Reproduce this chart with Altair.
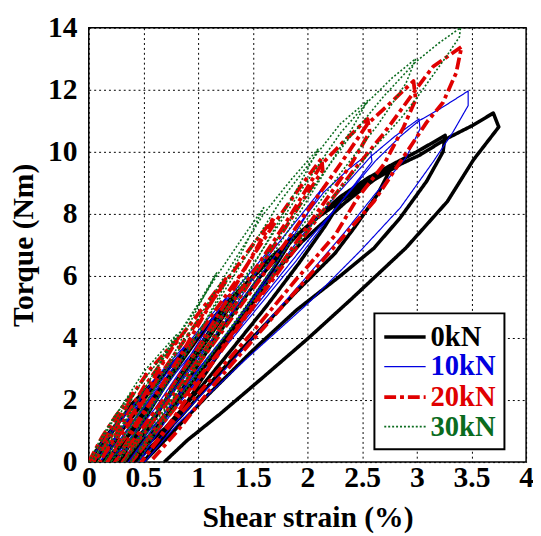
import altair as alt
import pandas as pd

SERIES = ["0kN", "10kN", "20kN", "30kN"]
COLORS = ["#000000", "#0000e0", "#e00000", "#0a6b1e"]
WIDTHS = [3.6, 1.2, 3.8, 1.6]
DASHES = [[1, 0], [1, 0], [12, 4, 4, 4], [2, 2]]

# (shear strain %, torque Nm) read along each hysteresis path, in drawing order
PATH_0KN = [
    (0, 0), (0.15, 0.8), (0.32, 1.5), (0.55, 2.3), (0.45, 1.7), (0.3, 1.0), (0.15, 0.35), (0.05, 0),
    (0.2, 0.9), (0.4, 1.9), (0.6, 2.6), (0.8, 3.3), (0.98, 4.0), (0.85, 3.3), (0.65, 2.2), (0.45, 1.2), (0.25, 0.4), (0.12, 0),
    (0.3, 1.0), (0.52, 2.1), (0.75, 3.1), (0.98, 3.95), (1.2, 4.9), (1.42, 5.7), (1.25, 4.8), (1.0, 3.5), (0.75, 2.2), (0.5, 1.0), (0.3, 0.3), (0.2, 0),
    (0.4, 1.1), (0.65, 2.4), (0.95, 3.8), (1.2, 4.8), (1.42, 5.65), (1.65, 6.5), (1.88, 7.3), (1.72, 6.4), (1.47, 5.1), (1.17, 3.6), (0.87, 2.2), (0.57, 0.9), (0.36, 0.2), (0.28, 0),
    (0.48, 1.2), (0.72, 2.6), (1.0, 4.0), (1.3, 5.2), (1.6, 6.4), (1.88, 7.25), (2.1, 7.9), (2.32, 8.5), (2.16, 7.6), (1.92, 6.4), (1.62, 5.0), (1.3, 3.6), (1.0, 2.3), (0.7, 1.1), (0.45, 0.3), (0.35, 0),
    (0.57, 1.2), (0.8, 2.6), (1.1, 4.2), (1.45, 5.8), (1.8, 7.0), (2.1, 7.9), (2.32, 8.45), (2.55, 9.05), (2.78, 9.58), (2.64, 8.62), (2.43, 7.56), (2.25, 6.72), (1.9, 5.5), (1.55, 4.2), (1.2, 2.9), (0.85, 1.5), (0.6, 0.6), (0.42, 0),
    (0.66, 1.2), (0.9, 2.6), (1.2, 4.2), (1.55, 5.9), (1.9, 7.3), (2.3, 8.55), (2.55, 9.15), (2.78, 9.6), (3.0, 10.0), (3.26, 10.53), (3.24, 10.0), (3.09, 9.05), (2.85, 7.88), (2.61, 6.9), (2.3, 6.0), (1.9, 4.9), (1.5, 3.6), (1.1, 2.2), (0.75, 0.9), (0.5, 0),
    (0.77, 1.2), (1.02, 2.6), (1.32, 4.2), (1.65, 5.9), (1.95, 7.1), (2.34, 8.35), (2.61, 9.1), (2.85, 9.6), (3.03, 9.9), (3.27, 10.42), (3.51, 10.85), (3.70, 11.25), (3.75, 10.8), (3.52, 9.75), (3.28, 8.4), (2.9, 6.9), (2.4, 5.25), (2.01, 4.0), (1.6, 2.75), (1.2, 1.55), (0.9, 0.7), (0.69, 0),
]

PATH_10KN = [
    (0, 0), (0.15, 0.8), (0.3, 1.45), (0.5, 2.2), (0.38, 1.5), (0.22, 0.7), (0.1, 0.2), (0.04, 0),
    (0.2, 0.9), (0.4, 1.8), (0.62, 2.75), (0.88, 3.75), (0.72, 2.9), (0.5, 1.8), (0.3, 0.8), (0.15, 0.2), (0.1, 0),
    (0.3, 1.05), (0.55, 2.3), (0.8, 3.35), (1.05, 4.45), (1.28, 5.4), (1.1, 4.4), (0.85, 3.0), (0.6, 1.7), (0.35, 0.6), (0.16, 0),
    (0.4, 1.25), (0.7, 2.7), (1.0, 4.05), (1.28, 5.3), (1.5, 6.2), (1.71, 7.1), (1.55, 6.2), (1.3, 4.8), (1.0, 3.3), (0.7, 1.9), (0.45, 0.8), (0.23, 0),
    (0.48, 1.3), (0.78, 2.8), (1.1, 4.2), (1.4, 5.5), (1.71, 6.95), (1.95, 8.0), (2.15, 8.89), (2.0, 8.0), (1.75, 6.6), (1.45, 5.0), (1.1, 3.4), (0.8, 2.0), (0.5, 0.8), (0.3, 0),
    (0.55, 1.25), (0.85, 2.7), (1.2, 4.3), (1.5, 5.7), (1.8, 7.1), (2.15, 8.7), (2.38, 9.45), (2.58, 10.0), (2.59, 9.68), (2.42, 8.9), (2.2, 7.9), (1.9, 6.5), (1.55, 5.0), (1.2, 3.5), (0.9, 2.2), (0.6, 1.0), (0.36, 0),
    (0.6, 1.15), (0.9, 2.55), (1.25, 4.1), (1.6, 5.7), (1.95, 7.3), (2.3, 8.75), (2.58, 9.85), (2.8, 10.5), (3.02, 11.06), (3.03, 10.74), (2.90, 9.8), (2.61, 8.6), (2.34, 7.4), (2.0, 6.0), (1.6, 4.4), (1.2, 2.8), (0.8, 1.3), (0.45, 0),
    (0.68, 1.2), (0.98, 2.6), (1.32, 4.1), (1.68, 5.7), (2.02, 7.2), (2.36, 8.6), (2.62, 9.7), (2.85, 10.5), (3.02, 11.0), (3.21, 11.38), (3.47, 11.96), (3.47, 11.49), (3.33, 10.63), (3.15, 9.68), (2.85, 8.2), (2.49, 6.83), (2.01, 5.13), (1.41, 3.23), (0.81, 1.22), (0.51, 0),
]

PATH_20KN = [
    (0, 0), (0.12, 0.8), (0.25, 1.5), (0.42, 2.3), (0.32, 1.6), (0.2, 0.8), (0.1, 0.25), (0.04, 0),
    (0.18, 0.9), (0.35, 1.9), (0.55, 2.95), (0.82, 4.0), (0.68, 3.2), (0.48, 2.0), (0.28, 0.9), (0.15, 0.3), (0.1, 0),
    (0.28, 1.1), (0.5, 2.4), (0.82, 3.95), (1.05, 5.0), (1.25, 5.9), (1.08, 4.9), (0.85, 3.5), (0.6, 2.1), (0.38, 1.0), (0.22, 0.3), (0.17, 0),
    (0.38, 1.3), (0.65, 2.8), (0.95, 4.3), (1.25, 5.8), (1.5, 7.0), (1.7, 7.9), (1.52, 6.8), (1.28, 5.3), (1.0, 3.7), (0.72, 2.2), (0.45, 0.9), (0.24, 0),
    (0.48, 1.4), (0.78, 3.0), (1.1, 4.6), (1.4, 6.1), (1.7, 7.7), (1.92, 8.8), (2.13, 9.79), (2.14, 9.4), (1.95, 8.4), (1.7, 7.0), (1.4, 5.4), (1.1, 3.8), (0.8, 2.3), (0.5, 0.9), (0.31, 0),
    (0.55, 1.3), (0.85, 2.9), (1.2, 4.6), (1.5, 6.1), (1.8, 7.7), (2.13, 9.6), (2.35, 10.4), (2.55, 11.06), (2.57, 10.64), (2.4, 9.6), (2.2, 8.6), (1.9, 7.1), (1.55, 5.3), (1.2, 3.6), (0.85, 2.0), (0.55, 0.7), (0.39, 0),
    (0.65, 1.3), (0.95, 2.9), (1.3, 4.6), (1.65, 6.3), (2.0, 8.1), (2.3, 9.6), (2.55, 10.9), (2.73, 11.48), (2.97, 12.28), (2.99, 11.69), (2.88, 10.8), (2.7, 9.6), (2.46, 8.52), (2.25, 7.3), (1.9, 5.9), (1.5, 4.2), (1.1, 2.6), (0.7, 1.0), (0.48, 0),
    (0.75, 1.3), (1.05, 2.8), (1.4, 4.5), (1.75, 6.2), (2.1, 7.9), (2.4, 9.3), (2.7, 10.6), (2.99, 12.0), (3.15, 12.75), (3.30, 13.12), (3.41, 13.39), (3.36, 12.54), (3.24, 11.59), (3.09, 10.95), (2.91, 10.0), (2.61, 8.41), (2.01, 5.98), (1.59, 4.29), (1.17, 2.6), (0.81, 1.0), (0.56, 0),
]

PATH_30KN = [
    (0, 0), (0.1, 0.7), (0.22, 1.4), (0.38, 2.2), (0.28, 1.5), (0.16, 0.7), (0.07, 0.2), (0.03, 0),
    (0.15, 0.9), (0.3, 1.8), (0.5, 2.9), (0.8, 4.1), (0.65, 3.2), (0.45, 2.0), (0.25, 0.9), (0.12, 0.3), (0.08, 0),
    (0.25, 1.1), (0.45, 2.4), (0.8, 4.0), (1.0, 5.1), (1.17, 6.1), (1.0, 5.0), (0.78, 3.5), (0.55, 2.1), (0.33, 0.9), (0.18, 0.2), (0.14, 0),
    (0.35, 1.4), (0.6, 2.9), (0.9, 4.5), (1.17, 6.0), (1.4, 7.2), (1.6, 8.2), (1.42, 6.9), (1.2, 5.4), (0.95, 3.8), (0.68, 2.3), (0.42, 0.9), (0.2, 0),
    (0.45, 1.5), (0.75, 3.2), (1.05, 4.9), (1.35, 6.6), (1.6, 8.0), (1.85, 9.1), (2.1, 10.1), (1.92, 8.9), (1.68, 7.4), (1.4, 5.7), (1.1, 4.0), (0.8, 2.4), (0.5, 1.0), (0.26, 0),
    (0.5, 1.4), (0.8, 3.1), (1.15, 5.0), (1.45, 6.7), (1.75, 8.4), (2.1, 10.0), (2.3, 10.9), (2.55, 11.65), (2.4, 10.7), (2.15, 9.3), (1.85, 7.6), (1.5, 5.7), (1.15, 3.9), (0.8, 2.2), (0.5, 0.8), (0.32, 0),
    (0.58, 1.4), (0.9, 3.1), (1.25, 5.0), (1.6, 6.9), (1.95, 8.8), (2.3, 10.6), (2.55, 11.6), (2.78, 12.4), (2.99, 13.0), (2.9, 12.2), (2.65, 10.9), (2.3, 9.3), (1.95, 7.6), (1.55, 5.6), (1.15, 3.6), (0.75, 1.6), (0.38, 0),
    (0.65, 1.4), (0.95, 3.0), (1.3, 4.9), (1.65, 6.8), (2.0, 8.6), (2.35, 10.3), (2.7, 11.8), (2.99, 12.9), (3.2, 13.5), (3.40, 14.0), (3.39, 13.7), (3.27, 13.07), (2.99, 11.69), (2.85, 11.06), (2.55, 9.9), (2.25, 8.6), (1.9, 7.0), (1.5, 5.2), (1.1, 3.4), (0.7, 1.5), (0.45, 0),
]

X_TICKS = [0, 0.5, 1, 1.5, 2, 2.5, 3, 3.5, 4]
Y_TICKS = [0, 2, 4, 6, 8, 10, 12, 14]

rows = []
for name, path in zip(SERIES, [PATH_0KN, PATH_10KN, PATH_20KN, PATH_30KN]):
    for i, (x, y) in enumerate(path):
        rows.append({"series": name, "x": x, "y": y, "i": i})
df = pd.DataFrame(rows)

FONT = "Liberation Serif"

label_color_expr = (
    "datum.label == '0kN' ? '#000000' : datum.label == '10kN' ? '#0000e0' : "
    "datum.label == '20kN' ? '#e00000' : '#0a6b1e'"
)

legend = alt.Legend(
    title=None,
    orient="none",
    legendX=290,
    legendY=290,
    direction="vertical",
    symbolType="M-1.5,0H1.5",
    symbolSize=784,
    symbolOffset=7,
    labelFont=FONT,
    labelFontWeight="bold",
    labelFontSize=29,
    labelColor={"expr": label_color_expr},
    labelOffset=10,
    rowPadding=-2,
    padding=8,
    strokeColor="black",
    fillColor="white",
)


def axis(title, values, label_pad, title_pad):
    return alt.Axis(
        values=values,
        format="~g",
        title=title,
        labelFont=FONT,
        labelFontWeight="bold",
        labelFontSize=30,
        labelColor="black",
        labelPadding=label_pad,
        titleFont=FONT,
        titleFontWeight="bold",
        titleFontSize=30,
        titleColor="black",
        titlePadding=title_pad,
        ticks=False,
        domain=False,
        grid=True,
        gridColor="black",
        gridDash=[2, 3],
        gridWidth=1,
        gridOpacity=1,
        labelFlush=False,
    )


chart = (
    alt.Chart(df)
    .mark_line(clip=True, strokeJoin="round")
    .encode(
        x=alt.X(
            "x:Q",
            scale=alt.Scale(domain=[0, 4], nice=False, zero=False),
            axis=axis("Shear strain (%)", X_TICKS, 1, 10),
        ),
        y=alt.Y(
            "y:Q",
            scale=alt.Scale(domain=[0, 14], nice=False, zero=False),
            axis=axis("Torque (Nm)", Y_TICKS, 12, 9),
        ),
        color=alt.Color("series:N", scale=alt.Scale(domain=SERIES, range=COLORS), legend=legend),
        strokeDash=alt.StrokeDash(
            "series:N", scale=alt.Scale(type="ordinal", domain=SERIES, range=DASHES), legend=legend
        ),
        strokeWidth=alt.StrokeWidth(
            "series:N", scale=alt.Scale(type="ordinal", domain=SERIES, range=WIDTHS), legend=legend
        ),
        order=alt.Order("i:Q"),
    )
    .properties(
        width=444,
        height=441,
        padding={"left": 82, "top": 16, "right": 7, "bottom": 71},
        autosize=alt.AutoSizeParams(type="none"),
    )
    .configure_view(stroke="black", strokeWidth=1.5)
    .configure_legend(strokeWidth=2)
)

chart.save("out.html", embed_options={"renderer": "svg", "actions": False})
